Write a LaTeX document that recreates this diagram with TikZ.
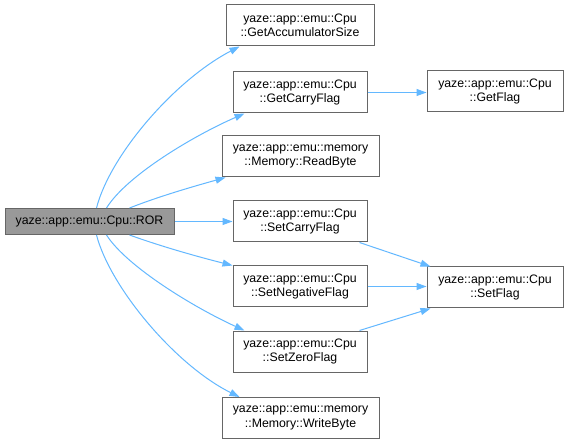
\documentclass[tikz,border=0pt]{standalone}
\usepackage{fontspec}
\setmainfont{Liberation Sans}
\usetikzlibrary{arrows.meta}
\definecolor{edgeblue}{HTML}{63B8FF}
\definecolor{boxgray}{HTML}{666666}
\definecolor{rorfill}{HTML}{999999}
\begin{document}
\begin{tikzpicture}[x=1pt,y=-1pt,
  fn/.style={draw=boxgray, fill=white, line width=1pt, inner sep=0pt, minimum height=41pt, align=center, font=\fontsize{12.3}{14.5}\selectfont},
  cur/.style={fn, fill=rorfill, minimum height=26pt},
  edge/.style={draw=edgeblue, line width=1pt, -{Triangle[length=10pt,width=7pt]}}]
\useasboundingbox[fill=white] (0,0) rectangle (567,443);

\node[cur, minimum width=169pt] (ror) at (89.5,221.5) {yaze::app::emu::Cpu::ROR};
\node[fn, minimum width=148pt] (gas) at (300,25.5) {yaze::app::emu::Cpu\\::GetAccumulatorSize};
\node[fn, minimum width=134pt] (gcf) at (300,92.5) {yaze::app::emu::Cpu\\::GetCarryFlag};
\node[fn, minimum width=157pt] (rb) at (300.5,156.5) {yaze::app::emu::memory\\::Memory::ReadByte};
\node[fn, minimum width=134pt] (scf) at (300,221.5) {yaze::app::emu::Cpu\\::SetCarryFlag};
\node[fn, minimum width=134pt] (snf) at (300,286.5) {yaze::app::emu::Cpu\\::SetNegativeFlag};
\node[fn, minimum width=134pt] (szf) at (300,351.5) {yaze::app::emu::Cpu\\::SetZeroFlag};
\node[fn, minimum width=157pt] (wb) at (300.5,418) {yaze::app::emu::memory\\::Memory::WriteByte};
\node[fn, minimum width=136pt] (gf) at (495,91.5) {yaze::app::emu::Cpu\\::GetFlag};
\node[fn, minimum width=136pt] (sf) at (495,287.5) {yaze::app::emu::Cpu\\::SetFlag};

\draw[edge] ([xshift=7pt]ror.north) .. controls (110,155) and (175,80) .. ([xshift=14pt]gas.south west);
\draw[edge] ([xshift=17pt]ror.north) .. controls (127,175) and (195,135) .. ([xshift=12pt]gcf.south west);
\draw[edge] ([xshift=40pt]ror.north) .. controls (160,196) and (195,186) .. ([xshift=4pt]rb.south west);
\draw[edge] (ror.east) -- (ror.east -| scf.west);
\draw[edge] ([xshift=40pt]ror.south) .. controls (160,246) and (195,256) .. (snf.north west);
\draw[edge] ([xshift=17pt]ror.south) .. controls (127,267) and (195,308) .. ([xshift=12pt]szf.north west);
\draw[edge] ([xshift=7pt]ror.south) .. controls (110,287) and (175,365) .. ([xshift=18pt]wb.north west);

\draw[edge] (gcf.east) -- (gcf.east -| gf.west);
\draw[edge] ([xshift=-8pt]scf.south east) -- ([xshift=4pt]sf.north west);
\draw[edge] (snf.east) -- (snf.east -| sf.west);
\draw[edge] ([xshift=-8pt]szf.north east) -- ([xshift=4pt]sf.south west);
\end{tikzpicture}
\end{document}
